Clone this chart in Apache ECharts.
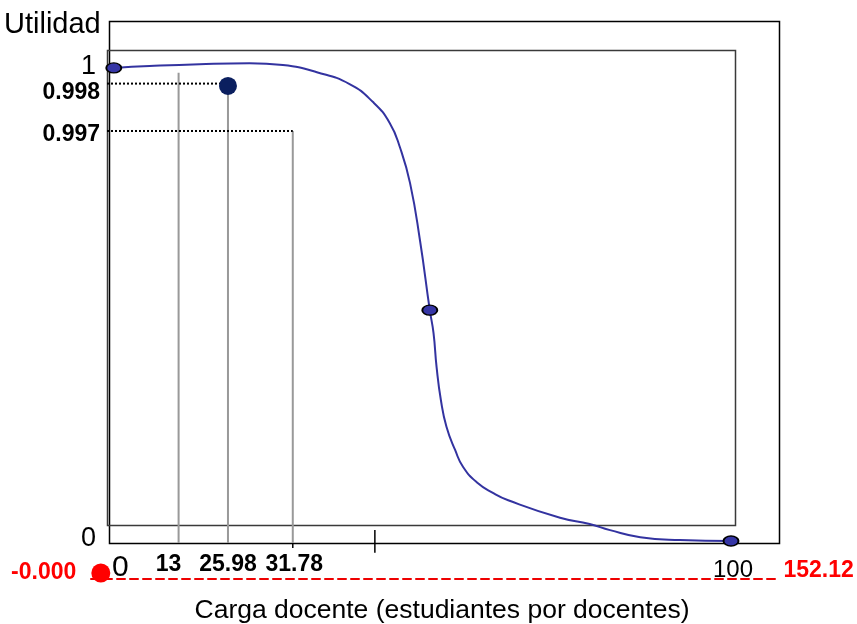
<!DOCTYPE html>
<html>
<head>
<meta charset="utf-8">
<script src="https://cdn.jsdelivr.net/npm/echarts@6/dist/echarts.min.js"></script>
<style>html,body{margin:0;padding:0;background:#fff;}#c{width:857px;height:624px;}</style>
</head>
<body>
<div id="c"></div>
<script>
// ---- data ----
const loadX = [0, 5.8, 13.9, 22.0, 27.4, 32.9, 38.2, 42.0, 44.7, 46.4, 48.0, 49.6, 51.2, 51.8, 52.3, 53.0, 53.9, 55.3, 56.6, 58.8, 61.5, 63.9, 72.3, 77.1, 80.4, 85.3, 91.7, 100];
const utility = [0.998, 1.002, 1.006, 1.008, 1.004, 0.989, 0.964, 0.926, 0.882, 0.829, 0.755, 0.635, 0.487, 0.439, 0.367, 0.297, 0.241, 0.192, 0.156, 0.124, 0.101, 0.086, 0.049, 0.036, 0.023, 0.008, 0.002, 0];
const keyPointsX = [0, 51.2, 100];
const keyPointsY = [0.998, 0.487, 0];
// annotations (schematic positions on the drawn axes, with their printed labels)
const loadMarkLabels = ['13', '25.98', '31.78'];
const loadMarkX = [10.5, 18.5, 29.0];
const loadMarkTop = [0.988, 0.960, 0.865];
const utilMarkLabels = ['0.998', '0.997'];
const utilMarkY = [0.965, 0.865];
const utilMarkEndX = [18.5, 29.0];
const chosenPoint = [18.5, 0.960];
const extraTicksX = [29.0, 42.3];
// red reference scale
const redScaleLabels = ['-0.000', '152.12'];
const redScaleValues = [0, 152.12];
// axis labels
const xTickValues = [0, 100];
const xTickLabels = ['0', '100'];
const yTickValues = [0, 1];
const yTickLabels = ['0', '1'];

const FONT = "'Liberation Sans', Arial, sans-serif";
const XMIN = -1.1;
const BOTTOM = -0.004;

const xVals = [xTickValues[0]].concat(loadMarkX, [xTickValues[1]]);
const xLabs = [xTickLabels[0]].concat(loadMarkLabels, [xTickLabels[1]]);
const xRich = ['zero', 'm0', 'm1', 'm2', 'hund'];
const yVals = [yTickValues[0]].concat(utilMarkY.slice().reverse(), [yTickValues[1]]);
const yLabs = [yTickLabels[0]].concat(utilMarkLabels.slice().reverse(), [yTickLabels[1]]);
const yRich = ['yzero', 'u1', 'u0', 'yone'];

const series = [];
// drop lines
loadMarkX.forEach((x, i) => {
  series.push({
    type: 'line', xAxisIndex: 0, yAxisIndex: 0, symbol: 'none', silent: true, clip: false, z: 1,
    data: [[x, loadMarkTop[i]], [x, BOTTOM]],
    lineStyle: { color: '#999', width: 2 }
  });
});
// dotted guide lines
utilMarkY.forEach((y, i) => {
  series.push({
    type: 'line', xAxisIndex: 0, yAxisIndex: 0, symbol: 'none', silent: true, clip: false, z: 1,
    data: [[XMIN, y], [utilMarkEndX[i], y]],
    lineStyle: { color: '#000', width: 2, type: [2, 2] }
  });
});
// extra ticks
series.push({
  type: 'line', xAxisIndex: 0, yAxisIndex: 0, symbol: 'none', silent: true, clip: false, z: 2,
  data: [[extraTicksX[0], BOTTOM], [extraTicksX[0], -0.015]],
  lineStyle: { color: '#000', width: 1.5 }
});
series.push({
  type: 'line', xAxisIndex: 0, yAxisIndex: 0, symbol: 'none', silent: true, clip: false, z: 2,
  data: [[extraTicksX[1], 0.023], [extraTicksX[1], -0.025]],
  lineStyle: { color: '#000', width: 1.5 }
});
// curve
series.push({
  type: 'line', xAxisIndex: 0, yAxisIndex: 0, smooth: 0.5, showSymbol: false, clip: false, z: 3,
  data: loadX.map((x, i) => [x, utility[i]]),
  lineStyle: { color: '#3333a0', width: 2 }
});
// key points
series.push({
  type: 'scatter', xAxisIndex: 0, yAxisIndex: 0, clip: false, z: 4,
  symbol: 'circle', symbolSize: [15, 10],
  data: keyPointsX.map((x, i) => [x, keyPointsY[i]]),
  itemStyle: { color: '#3636a6', borderColor: '#000', borderWidth: 1.6, opacity: 1 }
});
// chosen point
series.push({
  type: 'scatter', xAxisIndex: 0, yAxisIndex: 0, clip: false, z: 5,
  symbol: 'circle', symbolSize: 18,
  data: [chosenPoint],
  itemStyle: { color: '#0b1f5f', opacity: 1 }
});
// red scale points
series.push({
  type: 'scatter', xAxisIndex: 1, yAxisIndex: 1, clip: false, z: 5,
  symbol: 'circle', symbolSize: 19, symbolOffset: [0, -6],
  data: [[redScaleValues[0], 0]],
  itemStyle: { color: '#f00', opacity: 1 },
  label: { show: true, position: 'left', distance: 15, offset: [0, 0], formatter: redScaleLabels[0],
    color: '#f00', opacity: 1, fontSize: 23, fontWeight: 'bold', fontFamily: FONT }
});
series.push({
  type: 'scatter', xAxisIndex: 1, yAxisIndex: 1, clip: false, z: 5,
  symbol: 'circle', symbolSize: 1,
  data: [[redScaleValues[1], 0]],
  itemStyle: { color: 'rgba(0,0,0,0)', opacity: 1 },
  label: { show: true, position: 'right', distance: 3, offset: [0, -8], formatter: redScaleLabels[1],
    color: '#f00', opacity: 1, fontSize: 23, fontWeight: 'bold', fontFamily: FONT }
});

const option = {
  animation: false,
  backgroundColor: '#fff',
  grid: [
    { left: 107, right: 126, top: 67, bottom: 83 },
    { left: 91, right: 77, top: 560, bottom: 45 }
  ],
  xAxis: [
    {
      type: 'value', gridIndex: 0, min: XMIN, max: 100,
      axisLine: { show: false }, axisTick: { show: false }, splitLine: { show: false },
      axisLabel: {
        customValues: xVals, showMinLabel: true, showMaxLabel: true, margin: 12,
        formatter: function (v) { const i = xVals.indexOf(v); return i < 0 ? '' : '{' + xRich[i] + '|' + xLabs[i] + '}'; },
        rich: {
          zero: { fontSize: 30, color: '#000', fontFamily: FONT, padding: [0, 0, 0, 13] },
          m0: { fontSize: 23, fontWeight: 'bold', color: '#000', fontFamily: FONT, padding: [0, 20, 0, 0] },
          m1: { fontSize: 23, fontWeight: 'bold', color: '#000', fontFamily: FONT },
          m2: { fontSize: 23, fontWeight: 'bold', color: '#000', fontFamily: FONT, padding: [0, 0, 0, 3] },
          hund: { fontSize: 24, color: '#000', fontFamily: FONT, padding: [5, 0, 0, 4] }
        }
      }
    },
    {
      type: 'value', gridIndex: 1, min: -2.2, max: 152.12,
      axisLine: { show: true, lineStyle: { color: '#e00', width: 2, type: [8, 5] } },
      axisTick: { show: false }, axisLabel: { show: false }, splitLine: { show: false }
    }
  ],
  yAxis: [
    {
      type: 'value', gridIndex: 0, min: 0, max: 1,
      axisLine: { show: false }, axisTick: { show: false }, splitLine: { show: false },
      axisLabel: {
        customValues: yVals, showMinLabel: true, showMaxLabel: true, margin: 7,
        formatter: function (v) { const i = yVals.indexOf(v); return i < 0 ? '' : '{' + yRich[i] + '|' + yLabs[i] + '}'; },
        rich: {
          yzero: { fontSize: 27, color: '#000', fontFamily: FONT, padding: [0, 4, 4, 0] },
          u1: { fontSize: 23, fontWeight: 'bold', color: '#000', fontFamily: FONT, padding: [8, 0, 0, 0] },
          u0: { fontSize: 23, fontWeight: 'bold', color: '#000', fontFamily: FONT, padding: [19, 0, 0, 0] },
          yone: { fontSize: 27, color: '#000', fontFamily: FONT, padding: [0, 4, 0, 0] }
        }
      }
    },
    { type: 'value', gridIndex: 1, min: 0, max: 1, show: false }
  ],
  graphic: [
    { type: 'rect', z: 0, silent: true, shape: { x: 109.5, y: 21.5, width: 670, height: 522 },
      style: { fill: 'none', stroke: '#000', lineWidth: 1.5 } },
    { type: 'rect', z: 0, silent: true, shape: { x: 107.5, y: 50.5, width: 628, height: 475 },
      style: { fill: 'none', stroke: '#3a3a3a', lineWidth: 1.5 } },
    { type: 'text', z: 10, x: 4, y: 25,
      style: { text: 'Utilidad', fill: '#000', fontSize: 29, fontFamily: FONT,
        align: 'left', verticalAlign: 'middle', textAlign: 'left', textVerticalAlign: 'middle' } },
    { type: 'text', z: 10, x: 442, y: 611,
      style: { text: 'Carga docente (estudiantes por docentes)', fill: '#000', fontSize: 26.5, fontFamily: FONT,
        align: 'center', verticalAlign: 'middle', textAlign: 'center', textVerticalAlign: 'middle' } }
  ],
  series: series
};
const chart = echarts.init(document.getElementById('c'), null, { renderer: 'canvas' });
chart.setOption(option);
</script>
</body>
</html>
